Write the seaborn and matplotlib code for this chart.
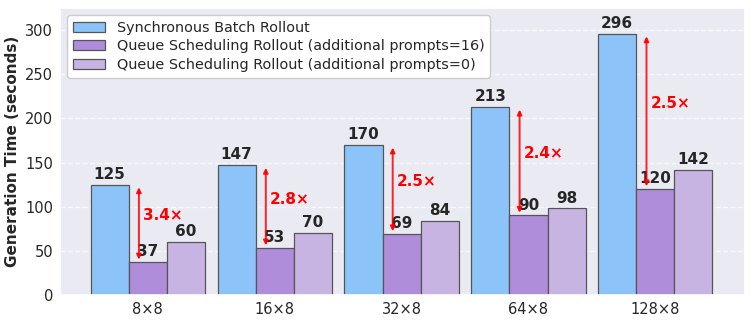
import seaborn as sns
import matplotlib.pyplot as plt
import pandas as pd

configs = ["8×8", "16×8", "32×8", "64×8", "128×8"]
sync_batch = [125, 147, 170, 213, 296]
queue_16 = [37, 53, 69, 90, 120]
queue_0 = [60, 70, 84, 98, 142]
speedups = ["3.4×", "2.8×", "2.5×", "2.4×", "2.5×"]

series_names = [
    "Synchronous Batch Rollout",
    "Queue Scheduling Rollout (additional prompts=16)",
    "Queue Scheduling Rollout (additional prompts=0)",
]
colores = ["#8cc3f8", "#b08ddb", "#c8b4e3"]

df = pd.DataFrame({
    "Config": configs * 3,
    "Tiempo": sync_batch + queue_16 + queue_0,
    "Serie": [series_names[0]] * 5 + [series_names[1]] * 5 + [series_names[2]] * 5,
})

sns.set_theme(style="darkgrid")
plt.rcParams["font.family"] = ["DejaVu Sans"]
fig, ax = plt.subplots(figsize=(7.53, 3.23), dpi=100)

sns.barplot(
    data=df, x="Config", y="Tiempo", hue="Serie",
    palette=colores, width=0.9, edgecolor="#555555", linewidth=0.9,
    saturation=1, ax=ax,
)

# etiquetas de valor encima de cada barra
for cont in ax.containers:
    ax.bar_label(cont, fmt="%d", padding=2, fontsize=11, fontweight="bold", color="#262626")

# flechas de aceleración
for i in range(len(configs)):
    x_flecha = i - 0.07
    ax.annotate(
        "", xy=(x_flecha, queue_16[i] + 3), xytext=(x_flecha, sync_batch[i] - 3),
        arrowprops=dict(arrowstyle="<|-|>", color="red", lw=1.4, mutation_scale=7,
                        shrinkA=0, shrinkB=0, alpha=0.85),
    )
    ax.text(x_flecha + 0.03, (sync_batch[i] + queue_16[i]) / 2, speedups[i],
            color="red", fontsize=11, fontweight="bold", ha="left", va="bottom")

ax.set_xlim(-0.69, 4.71)
ax.set_ylim(0, 325)
ax.set_xlabel("")
ax.set_ylabel("Generation Time (seconds)", fontsize=11, fontweight="bold", labelpad=4)
ax.tick_params(axis="both", labelsize=10.5, length=0, pad=5)
ax.yaxis.grid(True, linestyle="--", alpha=0.7)
ax.legend(loc="upper left", fontsize=10.4, frameon=True, facecolor="white",
          framealpha=1, handlelength=2.2, borderpad=0.4, labelspacing=0.3)

plt.subplots_adjust(left=0.08, right=0.99, top=0.975, bottom=0.087)
plt.savefig("out.png", dpi=100)
plt.close()
